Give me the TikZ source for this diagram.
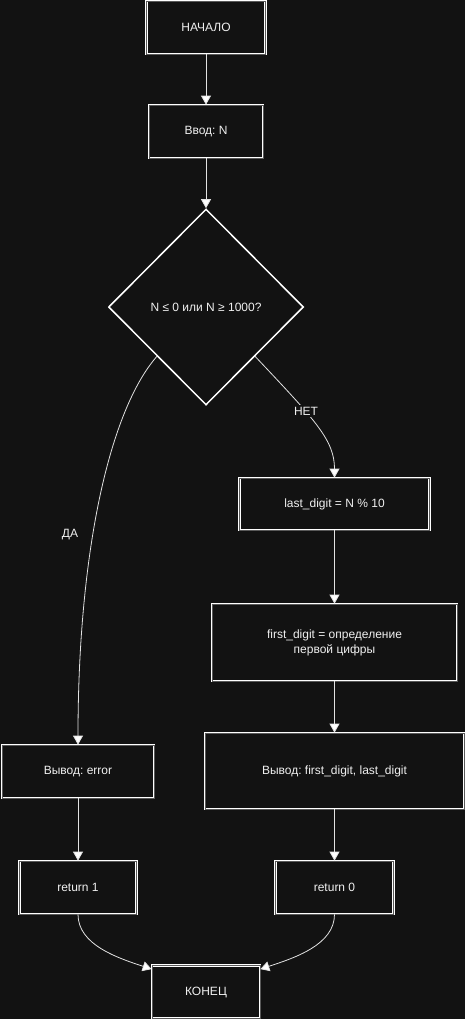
\documentclass[tikz,border=0pt]{standalone}
\usepackage{fontspec}
\setmainfont{Liberation Sans}
\frenchspacing
\usetikzlibrary{arrows.meta}
\usetikzlibrary{shapes.geometric}
\definecolor{bg}{HTML}{121212}
\definecolor{fg}{HTML}{F0F0F0}
\definecolor{edgegray}{HTML}{E2E2E2}

\begin{document}
\begin{tikzpicture}[x=1pt, y=-1pt,
                        block/.style={rectangle, draw=white, double=gray!70!black,
                            line width=0.7pt, double distance=0.7pt, fill=bg, text=fg,
                            minimum height=53pt, inner sep=0pt, align=center,
                            font=\fontsize{12}{15}\selectfont},
                        decision/.style={diamond, draw=white, line width=1.5pt, fill=bg,
                            text=fg, minimum width=195pt, minimum height=196pt,
                            inner sep=0pt, font=\fontsize{12}{15}\selectfont},
                        flow/.style={draw=edgegray, line width=0.8pt,
                            -{Triangle[width=10pt,length=9pt,fill=white]}},
                        lbl/.style={fill=bg, text=fg, inner sep=1.5pt,
                            font=\fontsize{12}{15}\selectfont}]

            \useasboundingbox (0,0) rectangle (465,1019);
            \fill[bg] (0,0) rectangle (465,1019);

            \node[block, minimum width=119pt] (start) at (206,27.5) {НАЧАЛО};
            \node[block, minimum width=114pt] (input) at (206,131.5) {Ввод: N};
            \node[decision] (cond) at (206,307) {N ≤ 0 или N ≥ 1000?};

            % ветка НЕТ
            \node[block, minimum width=190pt, minimum height=52pt] (last) at (334.5,504) {last\_digit = N \% 10};
            \node[block, minimum width=245pt, minimum height=77pt] (first) at (334.5,642.5)
                {first\_digit = определение\\первой цифры};
            \node[block, minimum width=259pt, minimum height=76pt] (outdig) at (334.5,771)
                {Вывод: first\_digit, last\_digit};
            \node[block, minimum width=118pt] (ret0) at (334.5,887.5) {return 0};

            % ветка ДА
            \node[block, minimum width=152pt] (outerr) at (78,771.5) {Вывод: error};
            \node[block, minimum width=117pt] (ret1) at (78,887.5) {return 1};

            \node[block, minimum width=108pt] (stop) at (206,992) {КОНЕЦ};

            \draw[flow] (start) -- (input);
            \draw[flow] (input) -- (cond);
            \draw[flow] (cond.south east) .. controls (315,420) and (334.5,440) .. (last.north);
            \draw[flow] (cond.south west) .. controls (110,410) and (78,550) .. (outerr.north);
            \draw[flow] (last) -- (first);
            \draw[flow] (first) -- (outdig);
            \draw[flow] (outdig) -- (ret0);
            \draw[flow] (outerr) -- (ret1);
            \draw[flow] (ret1.south) .. controls (78,945) and (118,958) .. ([yshift=-4pt]stop.north west);
            \draw[flow] (ret0.south) .. controls (334.5,945) and (294,958) .. ([yshift=-4pt]stop.north east);

            \node[lbl] (no) at (306,411) {НЕТ};
            \node[lbl, fill=none] (yes) at (70,535) {ДА};

        \end{tikzpicture}
\end{document}
